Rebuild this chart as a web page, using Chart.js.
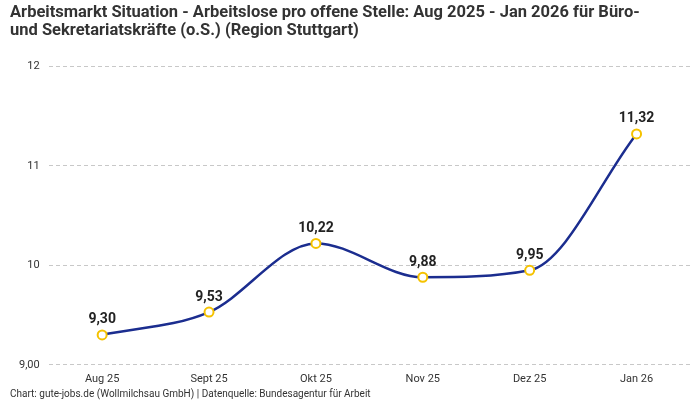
<!DOCTYPE html>
<html>
<head>
<meta charset="utf-8">
<script src="https://cdn.jsdelivr.net/npm/chart.js@4"></script>
<style>
  html, body { margin: 0; padding: 0; background: #fff; }
  #wrap { width: 700px; height: 400px; }
</style>
</head>
<body>
<div id="wrap"><canvas id="arbeitsmarkt"></canvas></div>
<script>
const months = ['Aug 25', 'Sept 25', 'Okt 25', 'Nov 25', 'Dez 25', 'Jan 26']
const arbeitslosePerStelle = [9.30, 9.53, 10.22, 9.88, 9.95, 11.32]
const titleLines = [
    'Arbeitsmarkt Situation - Arbeitslose pro offene Stelle: Aug 2025 - Jan 2026 für Büro-',
    'und Sekretariatskräfte (o.S.) (Region Stuttgart)'
]
const sourceText = 'Chart: gute-jobs.de (Wollmilchsau GmbH) | Datenquelle: Bundesagentur für Arbeit'

const fmt = v => v.toFixed(2).replace('.', ',')

// draws the value above each point
const valueLabels = {
    id: 'valueLabels',
    afterDatasetsDraw(chart) {
        const ctx = chart.ctx
        const meta = chart.getDatasetMeta(0)
        ctx.save()
        ctx.font = 'bold 14px Roboto, sans-serif'
        ctx.fillStyle = '#222'
        ctx.textAlign = 'center'
        ctx.textBaseline = 'bottom'
        meta.data.forEach((pt, i) => {
            ctx.fillText(fmt(arbeitslosePerStelle[i]), pt.x, pt.y - 8)
        })
        ctx.restore()
    }
}

const chart = new Chart('arbeitsmarkt', {
    type: 'line',
    data: {
        labels: months,
        datasets: [{
            data: arbeitslosePerStelle,
            borderColor: '#1b2d8f',
            borderWidth: 2.5,
            cubicInterpolationMode: 'monotone',
            pointRadius: 4.5,
            pointBorderWidth: 2,
            pointBackgroundColor: '#fff',
            pointBorderColor: '#f5c200',
            fill: false
        }]
    },
    options: {
        responsive: true,
        maintainAspectRatio: false,
        animation: false,
        layout: { padding: { left: 10, right: 10, top: 4, bottom: 0 } },
        plugins: {
            legend: { display: false },
            tooltip: { enabled: false },
            title: {
                display: true,
                text: titleLines,
                align: 'start',
                color: '#333',
                font: { family: 'Roboto, sans-serif', size: 16.5, weight: 'bold', lineHeight: 1.1 },
                padding: { top: 0, bottom: 26 }
            },
            subtitle: {
                display: true,
                position: 'bottom',
                text: sourceText,
                align: 'start',
                color: '#333',
                font: { family: 'Roboto, sans-serif', size: 10 },
                padding: { top: 2, bottom: 0 }
            }
        },
        scales: {
            x: {
                offset: true,
                grid: { display: false },
                border: { display: false },
                ticks: { color: '#333', font: { family: 'Roboto, sans-serif', size: 11 }, padding: 0 }
            },
            y: {
                min: 9,
                max: 12,
                grid: { color: '#c8c8c8', drawTicks: false },
                border: { display: false, dash: [4, 3] },
                ticks: {
                    stepSize: 1,
                    padding: 9,
                    color: '#333',
                    font: { family: 'Roboto, sans-serif', size: 11 },
                    callback: v => v === 9 ? '9,00' : v
                }
            }
        }
    },
    plugins: [valueLabels]
})
</script>
</body>
</html>
